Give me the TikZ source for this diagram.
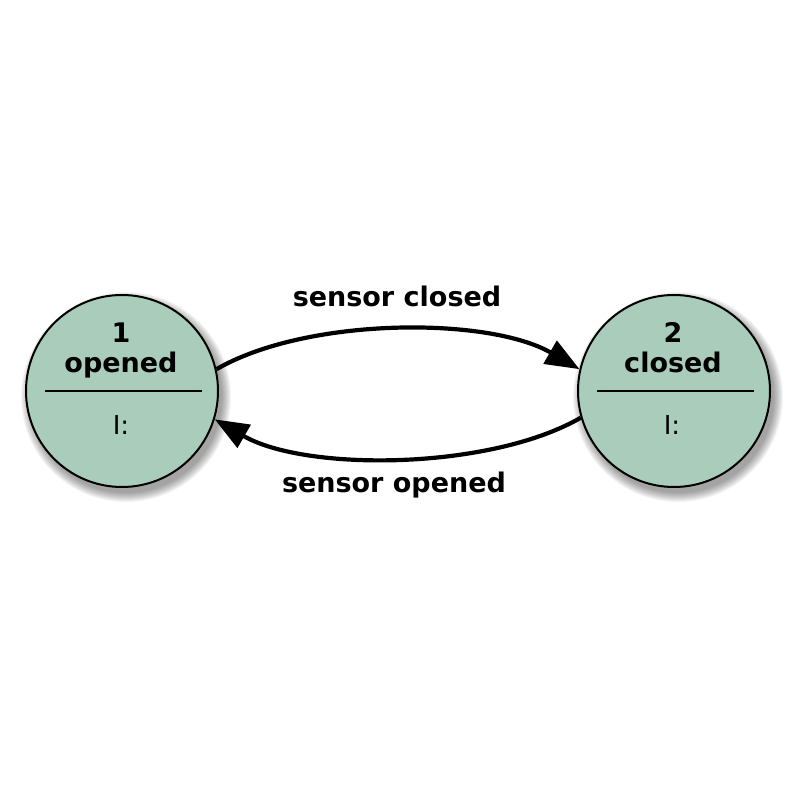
\documentclass[tikz,border=0pt]{standalone}
\usepackage{fontspec}
\setmainfont{DejaVu Sans}
\usetikzlibrary{arrows.meta}
\definecolor{statefill}{RGB}{170,205,187}
\tikzset{
  statecirc/.style={circle, draw=black, line width=2pt, fill=statefill, minimum size=192pt, inner sep=0pt},
  bigtxt/.style={font=\fontsize{27}{32}\selectfont\bfseries, anchor=base, inner sep=0pt},
  smalltxt/.style={font=\fontsize{26}{30}\selectfont, anchor=base, inner sep=0pt},
  trans/.style={line width=4.2pt, -{Triangle[length=34pt,width=26pt]}},
  sepline/.style={line width=1.6pt},
}
\begin{document}
\begin{tikzpicture}[x=1pt,y=1pt]
\useasboundingbox (0,0) rectangle (800,800);
% soft shadows
\foreach \cx in {122,674}{
  \foreach \k in {0,...,9}{
    \fill[black, opacity=0.045] (\cx+4,403) circle ({96+9-\k});
  }
}
\node[statecirc] (n1) at (122,409) {};
\node[statecirc] (n2) at (674,409) {};
% texts in states
\node[bigtxt] (n1num) at (121,457) {1};
\node[bigtxt] (n1name) at (121,427) {opened};
\coordinate (n1l) at (45,409);
\coordinate (n1r) at (202,409);
\draw[sepline] (n1l) -- (n1r);
\node[smalltxt] (n1act) at (121,365) {I:};
\node[bigtxt] (n2num) at (673,457) {2};
\node[bigtxt] (n2name) at (673,427) {closed};
\coordinate (n2l) at (597,409);
\coordinate (n2r) at (754,409);
\draw[sepline] (n2l) -- (n2r);
\node[smalltxt] (n2act) at (672,365) {I:};
% transitions
\draw[trans] (n1.13) .. controls +(30:105) and +(150:105) .. (n2.167);
\draw[trans] (n2.196) .. controls +(210:105) and +(330:105) .. (n1.343);
\node[bigtxt] (lab1) at (397,493) {sensor closed};
\node[bigtxt] (lab2) at (394,307) {sensor opened};
\end{tikzpicture}
\end{document}
